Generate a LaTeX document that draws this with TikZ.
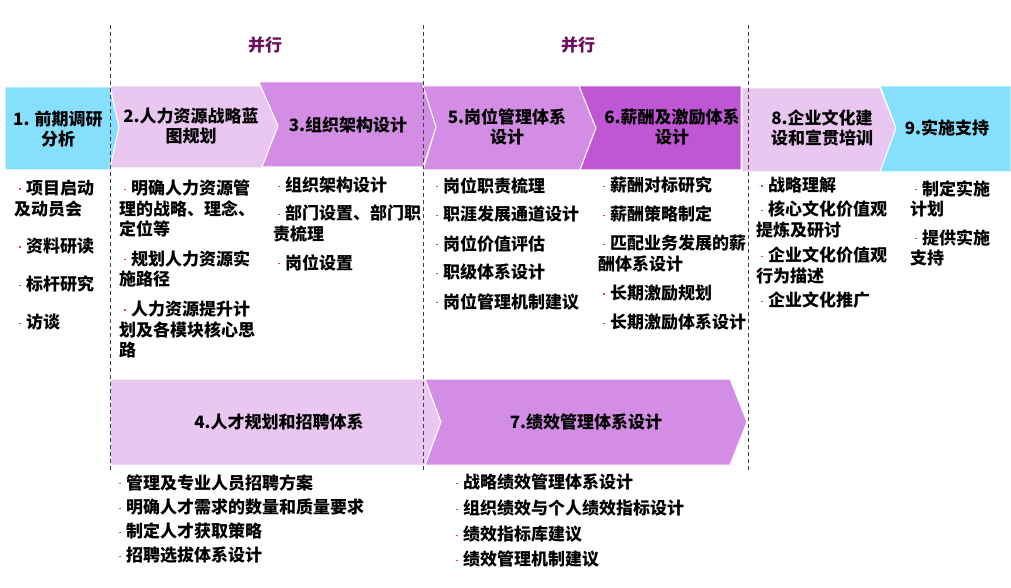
\documentclass[tikz,border=0pt]{standalone}
\usepackage{fontspec}
\setmainfont{Noto Sans CJK SC}
\definecolor{ccyan}{HTML}{86DFFC}
\definecolor{cpink}{HTML}{EAC7F1}
\definecolor{corchid}{HTML}{D38DE4}
\definecolor{cviolet}{HTML}{BF56D4}
\definecolor{cplum}{HTML}{6A0F5B}
\definecolor{cdot}{HTML}{E8452F}
\definecolor{cdash}{HTML}{404040}
\tikzset{
  every picture/.style={x=1pt, y=-1pt, font=\fontsize{17}{20.5}\selectfont\bfseries},
  stage/.style={fill=#1, draw=white, line width=1pt},
  head/.style={align=center, inner sep=0pt},
  item/.style={anchor=north west, align=left, inner sep=0pt},
  lane/.style={cdash, line width=0.9pt, dash pattern=on 4pt off 3pt},
  tag/.style={text=cplum, inner sep=0pt},
}
\newcommand{\bul}{\makebox[12pt][l]{\hspace{5pt}\textcolor{cdot}{\rule[5pt]{1.6pt}{1.3pt}}}}

\begin{document}
\begin{tikzpicture}
  \useasboundingbox (0,0) rectangle (1011,588);
  % top row
  \draw[stage=ccyan] (5,87) -- (110,87) -- (119,127) -- (110,170) -- (5,170) -- cycle;
  \draw[stage=cpink] (110,86) -- (261,86) -- (278,126) -- (262,168) -- (110,168) -- (119,127) -- cycle;
  \draw[stage=corchid] (259,82) -- (423,82) -- (436,127) -- (423,167) -- (262,167) -- (278,126) -- cycle;
  \draw[stage=corchid] (423,86) -- (579,86) -- (596,128) -- (580,170) -- (423,170) -- (436,127) -- cycle;
  \draw[stage=cviolet] (579,86) -- (741,86) -- (741,170) -- (580,170) -- (596,128) -- cycle;
  \draw[stage=cpink] (742,88) -- (880,88) -- (896,128) -- (880,172) -- (742,172) -- cycle;
  \draw[stage=ccyan] (880,86) -- (1011,86) -- (1011,172) -- (880,172) -- (896,128) -- cycle;
  % bottom row
  \draw[stage=cpink] (110,379) -- (425,379) -- (441,422) -- (425,465) -- (110,465) -- cycle;
  \draw[stage=corchid] (425,379) -- (730,379) -- (747,422) -- (730,465) -- (425,465) -- (441,422) -- cycle;
  \foreach \x in {110,423,748} \draw[lane] (\x,25) -- (\x,472);
  \node[tag] (p1) at (265,45) {并行};
  \node[tag] (p2) at (578,45) {并行};
  \node[head] (h1) at (58,129) {1. 前期调研\\分析};
  \node[head] (h2) at (191,126) {2.人力资源战略蓝\\图规划};
  \node[head] (h3) at (348,125) {3.组织架构设计};
  \node[head] (h5) at (507,127) {5.岗位管理体系\\设计};
  \node[head] (h6) at (672,127) {6.薪酬及激励体系\\设计};
  \node[head] (h8) at (822,128) {8.企业文化建\\设和宣贯培训};
  \node[head] (h9) at (947,128) {9.实施支持};
  \node[head] (h4) at (279,422) {4.人才规划和招聘体系};
  \node[head] (h7) at (586,422) {7.绩效管理体系设计};
  % lists
  \foreach \y/\t [count=\i] in {180/{项目启动\\及动员会}, 238/资料研读, 276/标杆研究, 314/访谈}
    \node[item] (a\i) at (14,\y) {\bul\t};
  \foreach \y/\t [count=\i] in {180/{明确人力资源管\\理的战略、理念、\\定位等}, 250/{规划人力资源实\\施路径}, 301/{人力资源提升计\\划及各模块核心思\\路}}
    \node[item] (b\i) at (119,\y) {\bul\t};
  \foreach \y/\t [count=\i] in {177/组织架构设计, 205/{部门设置、部门职\\责梳理}, 254/岗位设置}
    \node[item] (c\i) at (273,\y) {\bul\t};
  \foreach \y/\t [count=\i] in {177/岗位职责梳理, 206/职涯发展通道设计, 235/岗位价值评估, 264/职级体系设计, 293/岗位管理机制建议}
    \node[item] (e\i) at (431,\y) {\bul\t};
  \foreach \y/\t [count=\i] in {177/薪酬对标研究, 206/薪酬策略制定, 235/{匹配业务发展的薪\\酬体系设计}, 285/长期激励规划, 314/长期激励体系设计}
    \node[item] (f\i) at (598,\y) {\bul\t};
  \foreach \y/\t [count=\i] in {177/战略理解, 201/{核心文化价值观\\提炼及研讨}, 247/{企业文化价值观\\行为描述}, 292/企业文化推广}
    \node[item] (g\i) at (756,\y) {\bul\t};
  \foreach \y/\t [count=\i] in {180/{制定实施\\计划}, 229/{提供实施\\支持}}
    \node[item] (k\i) at (910,\y) {\bul\t};
  \foreach \y/\t [count=\i] in {474/管理及专业人员招聘方案, 499/明确人才需求的数量和质量要求, 523/制定人才获取策略, 547/招聘选拔体系设计}
    \node[item] (d\i) at (114,\y) {\bul\t};
  \foreach \y/\t [count=\i] in {474/战略绩效管理体系设计, 500/组织绩效与个人绩效指标设计, 526/绩效指标库建议, 551/绩效管理机制建议}
    \node[item] (m\i) at (451,\y) {\bul\t};
\end{tikzpicture}
\end{document}
